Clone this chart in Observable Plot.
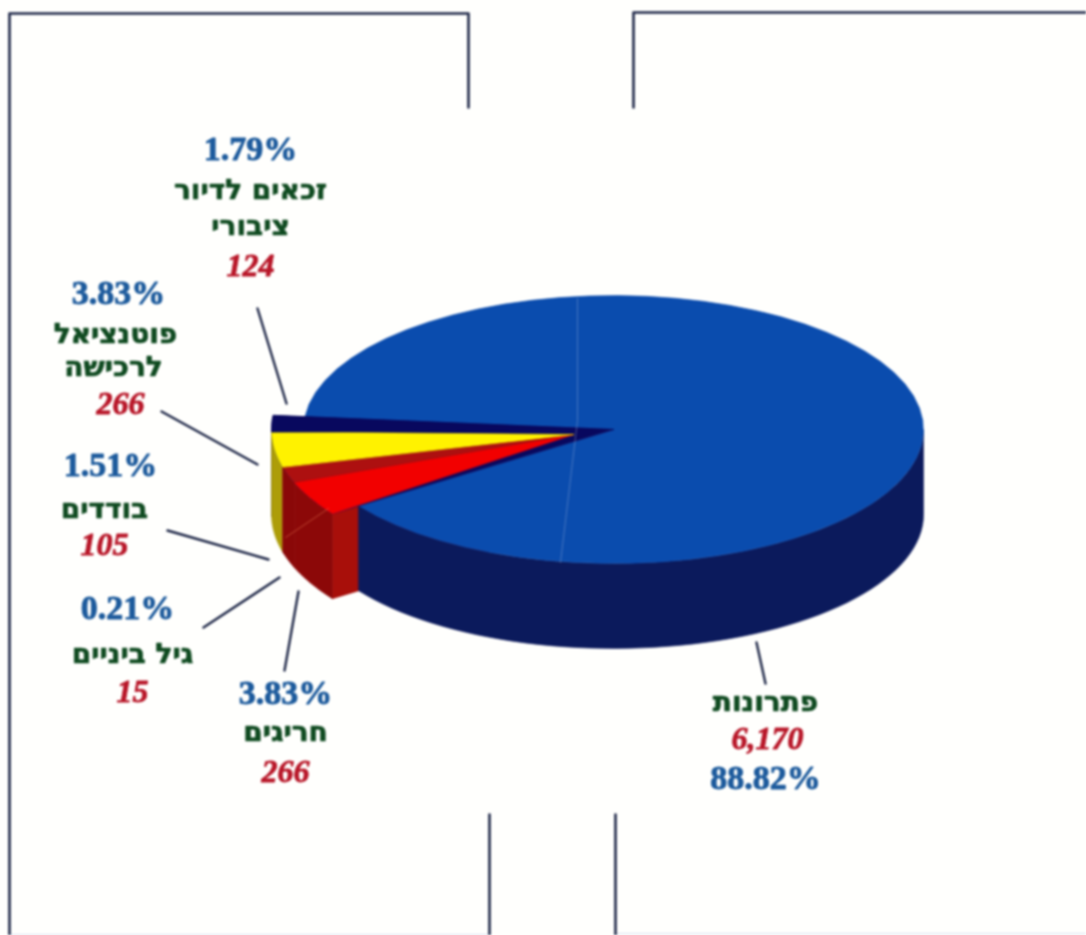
<!DOCTYPE html>
<html lang="he">
<head>
<meta charset="utf-8">
<script src="https://cdn.jsdelivr.net/npm/d3@7"></script>
<script src="https://cdn.jsdelivr.net/npm/@observablehq/plot@0.6"></script>
<style>
html,body{margin:0;padding:0;background:#fffffd;overflow:hidden}
svg{display:block;filter:blur(0.8px)}
</style>
</head>
<body>
<div id="chart"></div>
<script>
// ---- data, in the pie's drawing order ----
const categories = ["זכאים לדיור ציבורי","פוטנציאל לרכישה","גיל ביניים","בודדים","חריגים","פתרונות"];
const counts     = [124, 266, 15, 105, 266, 6170];
const percents   = ["1.79%","3.83%","0.21%","1.51%","3.83%","88.82%"];
const countText  = ["124","266","15","105","266","6,170"];
const nameLines  = [["זכאים לדיור","ציבורי"],["פוטנציאל","לרכישה"],["גיל ביניים"],["בודדים"],["חריגים"],["פתרונות"]];

// ---- styling and layout ----
const topFill  = ["#08085e","#fff200","#ad1010","#ad1010","#f20000","#0a4cae"];
const sideFill = ["#06063c","#ad9d08","#8a0808","#8a0808","#8c0808","#0b1a5c"];
const BLUE="#1c5a9c", GREEN="#0f4a20", RED="#b81628", LINE="#1f2848";
const cx=613, cy=429, rInner=310, rOuter=342, squash=0.432, depth=85, startDeg=185.5;
const tipShiftX=-40, tipShiftY=5;
const labelLayout = [
  {x:[250,250,250,250],y:[149,190,226,265]},
  {x:[118,115,113,120],y:[293,334,367,403]},
  {x:[127,132,132],y:[608,654,691]},
  {x:[110,104,104],y:[465,509,544]},
  {x:[285,285,285],y:[693,732,771]},
  {x:[765,765,767],y:[778,702,738]}
];
const leaderEnds = [
  [[257,308],[286,403]],[[161,411],[257,464]],[[203,627],[279,577]],
  [[167,530],[268,559]],[[298,591],[284,670]],[[756,642],[765,683]]
];
const frameLines = [
  [[9,935],[9,13],[468,13],[468,107]],
  [[633,107],[633,12],[1086,12]],
  [[489,814],[489,935]],
  [[615,814],[615,935]]
];
const faintLines = [[[615,933],[1086,933]],[[9,934],[489,934]],[[577,298],[577,420],[560,562]]];
const creaseLine = [[[285,537],[328,508]]];

// ---- geometry from the values ----
const arcs = d3.pie().sort(null).value(d=>d)(counts);
const rad = d=>d*Math.PI/180;
const radius = i => i===5 ? rInner : rOuter;
const pt = (th,r,dz=0)=>({x:cx+r*Math.cos(th), y:cy+r*squash*Math.sin(th)+dz});
const angles = i => { const a=rad(startDeg)-arcs[i].startAngle, b=rad(startDeg)-arcs[i].endAngle; return [a,b]; };
const sweep = (a,b)=>d3.range(0,61).map(k=>a+(b-a)*k/60);

const polys = [];
const add = (id,fill,pts)=>pts.forEach(p=>polys.push({...p,id,fill}));

// sides: only the part of each rim that faces the viewer
function rim(i){
  let [a,b]=angles(i);
  a=Math.min(a,Math.PI); b=Math.max(b,0);
  if (a<=b) return;
  const s=sweep(a,b), r=radius(i);
  add("rim"+i,sideFill[i],[...s.map(t=>pt(t,r)),...s.slice().reverse().map(t=>pt(t,r,depth))]);
}
// the straight cut face of the last small slice
const [,cutTh]=angles(4);
add("cut","#a80f0a",[{x:cx,y:cy},pt(cutTh,rOuter),pt(cutTh,rOuter,depth),{x:cx,y:cy+depth}]);
[0,1,2,3,4].forEach(rim);
rim(5);
// tops
function topFace(i){
  const [a,b]=angles(i);
  const tip = (i>=1 && i<=4) ? {x:cx+tipShiftX,y:cy+tipShiftY} : {x:cx,y:cy};
  add("top"+i,topFill[i],[tip,...sweep(a,b).map(t=>pt(t,radius(i)))]);
}
topFace(5);
// dark backing seen between the small slices' tips and the big slice
add("topBack",topFill[0],[{x:cx,y:cy},...sweep(angles(0)[0],cutTh).map(t=>pt(t,rOuter))]);
[4,3,2,1,0].forEach(topFace);

// ---- labels and lines ----
const labels = categories.flatMap((c,i)=>{
  const L=labelLayout[i];
  const rows=[{t:percents[i],kind:"pct"},...nameLines[i].map(t=>({t,kind:"name"})),{t:countText[i],kind:"count"}];
  return rows.map((r,k)=>({...r,x:L.x[k],y:L.y[k]}));
});
const seg = (list,prefix)=>list.flatMap((l,i)=>l.map(([x,y])=>({x,y,id:prefix+i})));

const chart = Plot.plot({
  width:1086,height:935,margin:0,
  style:{background:"#fffffd"},
  x:{domain:[0,1086],range:[0,1086],axis:null},
  y:{domain:[0,935],range:[0,935],axis:null},
  marks:[
    Plot.line(polys.filter(p=>p.id==="cut"||p.id.startsWith("rim")),{x:"x",y:"y",z:"id",fill:"fill",stroke:"fill",strokeWidth:0.6,curve:"linear-closed"}),
    Plot.line(polys.filter(p=>p.id.startsWith("top")),{x:"x",y:"y",z:"id",fill:"fill",stroke:"fill",strokeWidth:0.6,curve:"linear-closed"}),
    Plot.line(seg(creaseLine,"c"),{x:"x",y:"y",z:"id",stroke:"#e06a4a",strokeWidth:1,strokeOpacity:0.6}),
    Plot.line(seg(faintLines,"f"),{x:"x",y:"y",z:"id",stroke:"#9fb4dd",strokeWidth:1,strokeOpacity:0.4}),
    Plot.line(seg(frameLines,"b"),{x:"x",y:"y",z:"id",stroke:LINE,strokeWidth:2.6}),
    Plot.line(seg(leaderEnds,"l"),{x:"x",y:"y",z:"id",stroke:LINE,strokeWidth:2.4}),
    Plot.text(labels.filter(d=>d.kind==="pct"),{x:"x",y:"y",text:"t",fill:BLUE,fontFamily:"Liberation Serif",fontWeight:"bold",fontSize:34,stroke:BLUE,strokeWidth:0.9}),
    Plot.text(labels.filter(d=>d.kind==="name"),{x:"x",y:"y",text:"t",fill:GREEN,fontFamily:"DejaVu Sans",fontWeight:"bold",fontSize:28,stroke:GREEN,strokeWidth:0.7}),
    Plot.text(labels.filter(d=>d.kind==="count"),{x:"x",y:"y",text:"t",fill:RED,fontFamily:"Liberation Serif",fontWeight:"bold",fontStyle:"italic",fontSize:32,stroke:RED,strokeWidth:0.8})
  ]
});
document.getElementById("chart").append(chart);
</script>
</body>
</html>
